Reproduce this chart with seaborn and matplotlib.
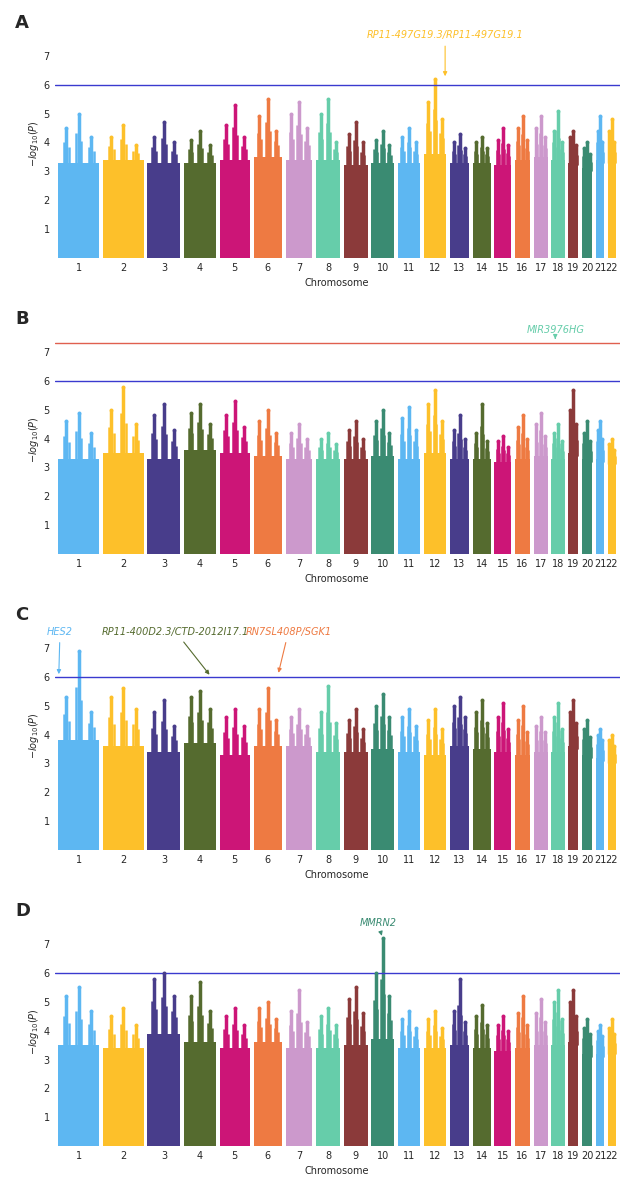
import matplotlib
matplotlib.use("Agg")
import matplotlib.pyplot as plt
import seaborn as sns
import numpy as np

sns.set_theme(style="white")
plt.rcParams['font.family'] = ['DejaVu Sans']

chroms = [str(i) for i in range(1, 23)]
chrom_len = [249,243,198,191,181,171,159,146,141,136,135,134,115,107,102,90,83,80,59,64,47,51]
palette = ["#5DB7F2","#FDC02A","#483D8B","#556B2F","#CC1577","#EE7A42","#CC99CC","#66CDAA","#8B3A3A","#3A8B72"]

# solid band top per chromosome
band_A = [3.3,3.4,3.3,3.3,3.4,3.5,3.4,3.4,3.2,3.3,3.3,3.6,3.3,3.3,3.2,3.4,3.5,3.4,3.3,3.1,3.4,3.4]
band_B = [3.3,3.5,3.3,3.6,3.5,3.4,3.3,3.3,3.3,3.4,3.3,3.5,3.3,3.3,3.2,3.3,3.4,3.3,3.5,3.3,3.3,3.2]
band_C = [3.8,3.6,3.4,3.7,3.3,3.6,3.6,3.4,3.4,3.5,3.4,3.3,3.6,3.5,3.4,3.3,3.4,3.4,3.6,3.3,3.2,3.1]
band_D = [3.5,3.4,3.9,3.6,3.4,3.6,3.4,3.4,3.5,3.7,3.4,3.4,3.5,3.4,3.3,3.4,3.5,3.5,3.6,3.2,3.2,3.3]
# top hits per chromosome (three per chromosome)
peak1_A = [5.0,4.6,4.7,4.4,5.3,5.5,5.4,5.5,4.7,4.4,4.5,6.2,4.3,4.2,4.5,4.9,4.9,5.1,4.4,4.0,4.9,4.8]
peak2_A = [4.5,4.2,4.2,4.1,4.6,4.9,5.0,5.0,4.3,4.1,4.2,5.4,4.0,4.0,4.1,4.5,4.5,4.4,4.2,3.8,4.4,4.4]
peak3_A = [4.2,3.9,4.0,3.9,4.2,4.4,4.5,4.0,4.0,3.9,4.0,4.8,3.8,3.8,3.9,4.1,4.2,4.0,3.9,3.6,4.0,4.0]
peak1_B = [4.9,5.8,5.2,5.2,5.3,5.0,4.5,4.2,4.6,5.0,5.1,5.7,4.8,5.2,4.1,4.8,4.9,4.5,5.7,4.6,4.6,4.0]
peak2_B = [4.6,5.0,4.8,4.9,4.8,4.6,4.2,4.0,4.3,4.6,4.7,5.2,4.3,4.2,3.9,4.4,4.5,4.2,5.0,4.2,4.3,3.8]
peak3_B = [4.2,4.5,4.3,4.5,4.4,4.2,4.0,3.8,4.0,4.2,4.3,4.6,4.0,3.9,3.7,4.0,4.1,3.9,4.5,3.9,4.0,3.6]
peak1_C = [6.9,5.6,5.2,5.5,4.9,5.6,4.9,5.7,4.9,5.4,4.9,4.9,5.3,5.2,5.1,5.0,4.6,5.1,5.2,4.5,4.2,4.0]
peak2_C = [5.3,5.3,4.8,5.3,4.6,4.9,4.6,4.8,4.5,5.0,4.6,4.5,5.0,4.8,4.6,4.5,4.3,4.6,4.8,4.2,4.0,3.8]
peak3_C = [4.8,4.9,4.3,4.9,4.3,4.5,4.3,4.4,4.2,4.6,4.3,4.2,4.6,4.4,4.2,4.1,4.1,4.2,4.4,3.9,3.8,3.6]
peak1_D = [5.5,4.8,6.0,5.7,4.8,5.0,5.4,4.8,5.5,7.2,4.7,4.7,5.8,4.9,4.5,5.2,5.1,5.4,5.4,4.4,4.2,4.4]
peak2_D = [5.2,4.5,5.8,5.2,4.5,4.8,4.7,4.5,5.1,6.0,4.4,4.4,4.7,4.5,4.2,4.6,4.6,5.0,5.0,4.1,4.0,4.1]
peak3_D = [4.7,4.2,5.2,4.7,4.2,4.4,4.3,4.2,4.6,5.2,4.1,4.1,4.3,4.2,4.0,4.2,4.3,4.4,4.5,3.9,3.8,3.9]
# relative positions of the three hits inside each chromosome
peak_frac = [0.5, 0.2, 0.8]

# label, chromosome of hit, position in chrom, tip y, text chromosome, text pos in chrom, text y
annots = {
    "A": [("RP11-497G19.3/RP11-497G19.1", 12, 0.95, 6.2, 12, 0.95, 7.55)],
    "B": [("MIR3976HG", 18, 0.3, 7.45, 18, 0.3, 7.6)],
    "C": [("HES2", 1, 0.02, 6.0, 1, 0.05, 7.4),
          ("RP11-400D2.3/CTD-2012I17.1", 4, 0.85, 6.0, 3, 0.85, 7.4),
          ("RN7SL408P/SGK1", 6, 0.85, 6.05, 7, 0.1, 7.4)],
    "D": [("MMRN2", 10, 0.5, 7.2, 10, 0.3, 7.55)],
}
panels = [("A", band_A, peak1_A, peak2_A, peak3_A),
          ("B", band_B, peak1_B, peak2_B, peak3_B),
          ("C", band_C, peak1_C, peak2_C, peak3_C),
          ("D", band_D, peak1_D, peak2_D, peak3_D)]

gap = 22
starts = []
pos = 0
for L in chrom_len:
    starts.append(pos)
    pos += L + gap
total = pos - gap
centers = [s + L / 2 for s, L in zip(starts, chrom_len)]

fig, axes = plt.subplots(4, 1, figsize=(6.42, 12), dpi=100)
fig.subplots_adjust(left=0.085, right=0.965, top=0.975, bottom=0.045, hspace=0.3)

for ax, (lab, band, p1, p2, p3) in zip(axes, panels):
    for i, L in enumerate(chrom_len):
        col = palette[i % 10]
        ax.bar(starts[i], band[i], width=L, align="edge", color=col, linewidth=0)
        for frac, series in zip(peak_frac, (p1, p2, p3)):
            pk = series[i]
            x = starts[i] + frac * L
            ax.vlines(x, band[i] - 0.1, pk, color=col, lw=2.5)
            ax.vlines([x - L*0.06, x + L*0.06], band[i] - 0.1,
                      band[i] + (pk - band[i]) * np.array([0.6, 0.45]), color=col, lw=1.8)
            ax.scatter([x], [pk], s=8, color=col, zorder=3, linewidths=0)
    ax.axhline(6, color="#3A3ACF", lw=1)
    if lab == "B":
        ax.axhline(7.3, color="#E0604F", lw=1)
    for txt, c, frac, ytip, tc, tfrac, ytxt in annots[lab]:
        i = c - 1
        col = palette[i % 10]
        x = starts[i] + frac * chrom_len[i]
        xt = starts[tc - 1] + tfrac * chrom_len[tc - 1]
        ax.annotate(txt, xy=(x, ytip), xytext=(xt, ytxt), color=col,
                    fontsize=7, style="italic", ha="center", va="bottom",
                    arrowprops=dict(arrowstyle="-|>", color=col, lw=0.8, mutation_scale=6))
    ax.set_xlim(-20, total + 20)
    ax.set_ylim(0, 7.9)
    ax.set_yticks(range(1, 8))
    ax.set_xticks(centers)
    ax.set_xticklabels(chroms, fontsize=7)
    ax.tick_params(axis="y", labelsize=7, length=0)
    ax.tick_params(axis="x", length=0)
    for s in ax.spines.values():
        s.set_visible(False)
    ax.set_xlabel("Chromosome", fontsize=7)
    ax.set_ylabel(r"$-log_{10}(P)$", fontsize=7, labelpad=2)
    ax.text(-0.07, 1.07, lab, transform=ax.transAxes, fontsize=13, fontweight="bold", va="top")

fig.savefig("out.png", dpi=100)
